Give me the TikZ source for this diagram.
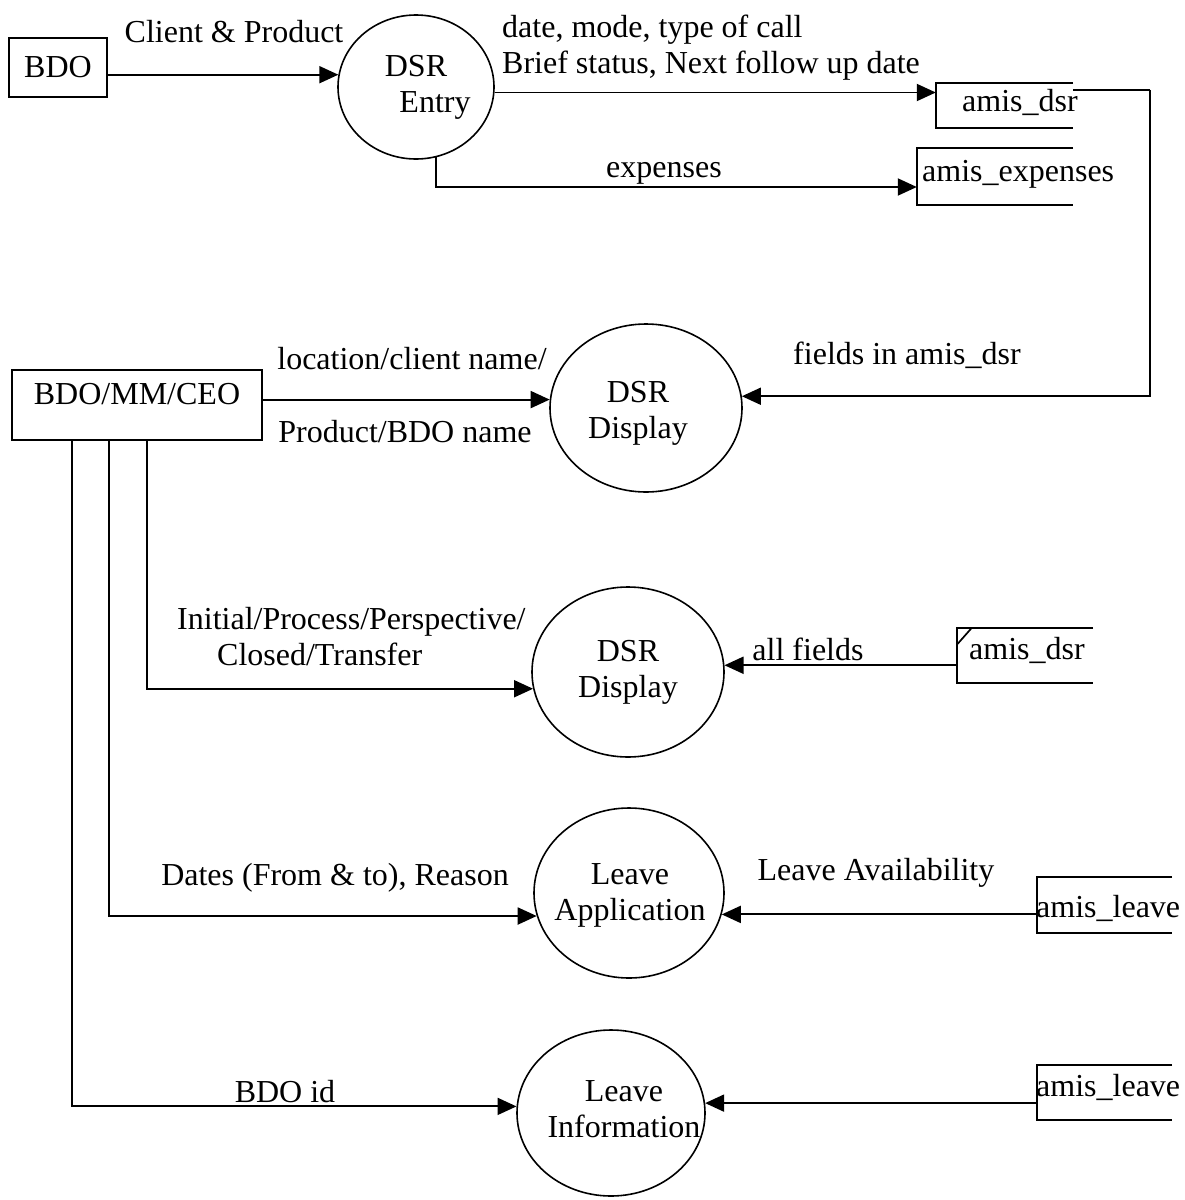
\documentclass[tikz,border=0pt]{standalone}
\usepackage{fontspec}
\setmainfont{Liberation Serif}
\usetikzlibrary{arrows.meta,shapes.geometric}

\tikzset{
  every node/.style={font=\fontsize{32}{36}\selectfont, inner sep=0pt},
  entity/.style={draw, line width=1.8pt, rectangle},
  proc/.style={draw, line width=1.6pt, ellipse},
  ptext/.style={align=center},
  store/.style={rectangle, draw=none},
  storeline/.style={line width=1.7pt},
  flow/.style={line width=1.9pt, -{Triangle[length=19pt,width=17pt]}},
  link/.style={line width=1.7pt},
}

\begin{document}
\begin{tikzpicture}[x=1pt, y=-1pt]
\useasboundingbox (0,0) rectangle (1185,1200);

% external entities
\node[entity, minimum width=98pt, minimum height=59pt] (bdo) at (58,67.5) {BDO};
\node[entity, minimum width=250pt, minimum height=70pt, text depth=22pt] (mgr) at (137,405) {BDO/MM/CEO};

% processes
\node[proc, minimum width=156pt, minimum height=144pt] (entry) at (416,87) {};
\node[proc, minimum width=192pt, minimum height=168pt] (disp1) at (646,408) {};
\node[proc, minimum width=192pt, minimum height=170pt] (disp2) at (628,672) {};
\node[proc, minimum width=190pt, minimum height=170pt] (app) at (629,893) {};
\node[proc, minimum width=188pt, minimum height=166pt] (info) at (611,1113) {};

\node[ptext] (entryt) at (entry) {DSR\\\hspace*{38pt}Entry};
\node[ptext] (disp1t) at ([xshift=-8pt,yshift=-5pt]disp1) {DSR\\Display};
\node[ptext] (disp2t) at (disp2) {DSR\\Display};
\node[ptext] (appt) at ([xshift=1pt,yshift=-2pt]app) {Leave\\Application};
\node[ptext] (infot) at ([xshift=13pt,yshift=4pt]info) {Leave\\Information};

% data stores (open on the right)
\node[store, minimum width=137pt, minimum height=45pt] (s1) at (1004.5,105.5) {};
\node[store, minimum width=156pt, minimum height=57pt] (s2) at (995,176.5) {};
\node[store, minimum width=136pt, minimum height=55pt] (s3) at (1025,655.5) {};
\node[store, minimum width=135pt, minimum height=56pt] (s4) at (1104.5,905) {};
\node[store, minimum width=135pt, minimum height=55pt] (s5) at (1104.5,1092.5) {};
\foreach \s in {s1,s2,s3,s4,s5}
  \draw[storeline] (\s.north east) -- (\s.north west) -- (\s.south west) -- (\s.south east);
\draw[storeline] ([yshift=-17pt]s3.north west) -- ([xshift=15pt]s3.north west);

\node[anchor=west] (s1t) at (962,102) {amis\_dsr};
\node[anchor=west] (s2t) at (922,174) {amis\_expenses};
\node[anchor=west] (s3t) at (969,650) {amis\_dsr};
\node[anchor=west] (s4t) at (1036,908) {amis\_leave};
\node[anchor=west] (s5t) at (1036,1087) {amis\_leave};

% flows
\draw[flow] (bdo.east |- entry.171.9) -- (entry.171.9);
\draw[flow] (entry.-4.4) -- (s1.west |- entry.-4.4);
\draw[flow] (entry.-74.8) |- ([yshift=-10.5pt]s2.west);
\draw[link] ([yshift=-7pt]s1.north east) -- ++(77,0) coordinate (c1);
\draw[flow] (c1) |- (disp1.7.9);
\draw[flow] (mgr.east |- disp1.175.2) -- (disp1.175.2);
\draw[flow] ([xshift=136pt]mgr.south west) |- (disp2.-170.4);
\draw[flow] ([xshift=98pt]mgr.south west) |- (app.194.9);
\draw[flow] ([xshift=61pt]mgr.south west) |- (info.176.3);
\draw[flow] (s3.west |- disp2.4.2) -- (disp2.4.2);
\draw[flow] (s4.west |- app.-13.6) -- (app.-13.6);
\draw[flow] (s5.west |- info.6.1) -- (info.6.1);

% flow labels
\node (l1) at (234,32) {Client \& Product};
\node[anchor=west, align=left] (l2) at (502,48) {date, mode, type of call\\Brief status, Next follow up date};
\node (l3) at (664,173) {expenses};
\node (l4) at (907,355) {fields in amis\_dsr};
\node (l5) at (412,359) {location/client name/};
\node (l6) at (405,432) {Product/BDO name};
\node[anchor=west, align=left] (l7) at (177,637) {Initial/Process/Perspective/\\\hspace*{40pt}Closed/Transfer};
\node (l8) at (808,649) {all fields};
\node (l9) at (335,878) {Dates (From \& to), Reason};
\node (l10) at (876,873) {Leave Availability};
\node (l11) at (285,1092) {BDO id};
\end{tikzpicture}
\end{document}
